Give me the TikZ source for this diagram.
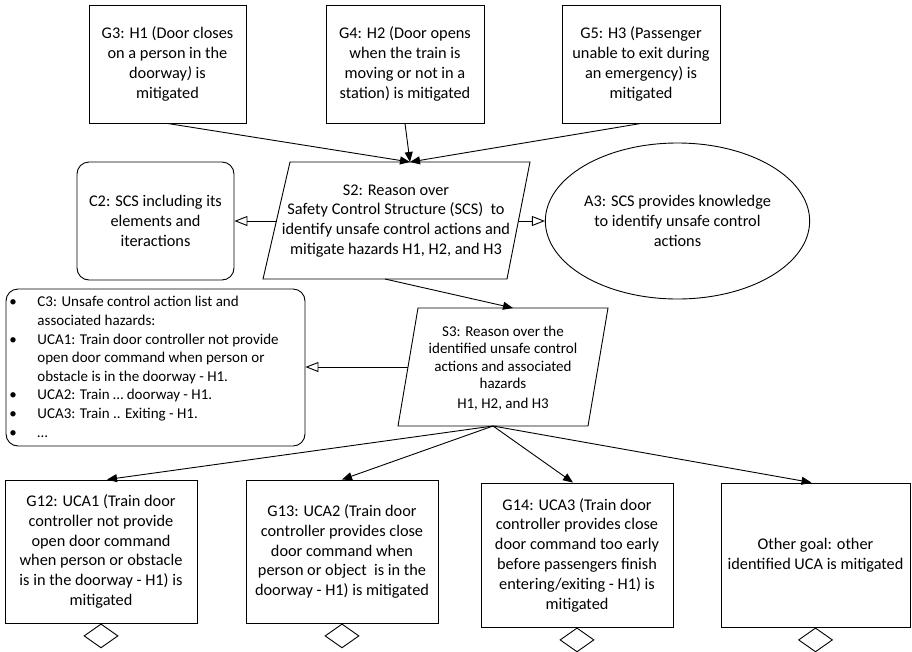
\documentclass[tikz,border=0pt]{standalone}
\usepackage{fontspec}
\setmainfont{Carlito}
\usetikzlibrary{arrows.meta,shapes.geometric,calc}
\begin{document}
\begin{tikzpicture}[x=1pt,y=-1pt,
  line width=0.9pt,
  bigfont/.style={font=\fontsize{16.3}{19.8}\selectfont},
  goalbox/.style={draw, rectangle, inner sep=0pt, align=center, bigfont},
  ctxbox/.style={draw, rectangle, rounded corners=12pt, inner sep=0pt, align=center, bigfont},
  solved/.style={-{Triangle[length=10pt,width=8pt]}},
  incontext/.style={-{Triangle[open,length=13pt,width=10pt]}},
  opt/.style={draw, diamond, minimum width=34pt, minimum height=24pt, inner sep=0pt, anchor=north}
]
\useasboundingbox (0,0) rectangle (912,651);

% top goals
\node[goalbox, minimum width=157pt, minimum height=118pt] (g3) at (167.5,64)
  {G3: H1 (Door closes\\on a person in the\\doorway\textit{)} is\\mitigated};
\node[goalbox, minimum width=158pt, minimum height=118pt] (g4) at (405,64)
  {G4: H2 (Door opens\\when the train is\\moving or not in a\\station) is mitigated};
\node[goalbox, minimum width=158pt, minimum height=118pt] (g5) at (641,64)
  {G5: H3 (Passenger\\unable to exit during\\an emergency) is\\mitigated};

% S2 strategy
\coordinate (s2tl) at (290,162);
\coordinate (s2tr) at (530,162);
\coordinate (s2br) at (507,279);
\coordinate (s2bl) at (263,279);
\coordinate (s2top) at (410,162);
\coordinate (s2bot) at (385,279);
\coordinate (s2L) at (277,221);
\coordinate (s2R) at (519,221);
\draw (s2tl) -- (s2tr) -- (s2br) -- (s2bl) -- cycle;
\node[inner sep=0pt, align=center, bigfont] (s2) at (396,221)
  {S2: Reason over\\Safety Control Structure (SCS)\ \ to\\identify unsafe control actions and\\mitigate hazards H1, H2, and H3};

% C2 context
\node[ctxbox, minimum width=157pt, minimum height=118pt] (c2) at (155.5,221)
  {C2: SCS including its\\elements and\\iteractions};

% A3 assumption
\node[draw, ellipse, inner sep=0pt, minimum width=235pt, minimum height=156pt, align=center, bigfont] (a3) at (677.5,221)
  {A3: SCS provides knowledge\\to identify unsafe control\\actions};

% C3 context
\node[draw, rectangle, rounded corners=12pt, minimum width=299pt, minimum height=157pt, inner sep=0pt] (c3) at (155.5,367.5) {};
\node[anchor=north west, inner sep=0pt, font=\fontsize{15}{18.6}\selectfont] (c3txt) at (9,293.5)
  {\begin{tabular}{@{}p{28pt}@{}p{262pt}@{}}
   \textbullet & C3: Unsafe control action list and\newline associated hazards:\\
   \textbullet & UCA1: Train door controller not provide\newline open door command when person or\newline obstacle is in the doorway - H1.\\
   \textbullet & UCA2: Train … doorway - H1.\\
   \textbullet & UCA3: Train .. Exiting - H1.\\
   \textbullet & …\\
   \end{tabular}};

% S3 strategy
\coordinate (s3tl) at (418,308);
\coordinate (s3tr) at (608,308);
\coordinate (s3br) at (588,426);
\coordinate (s3bl) at (398,426);
\coordinate (s3top) at (513,308);
\coordinate (s3bot) at (493,426);
\coordinate (s3L) at (408,367);
\draw (s3tl) -- (s3tr) -- (s3br) -- (s3bl) -- cycle;
\node[inner sep=0pt, align=center, font=\fontsize{15}{17.5}\selectfont] (s3) at (503,368)
  {S3: Reason over the\\identified unsafe control\\actions and associated\\hazards\\[2pt]H1, H2, and H3};

% bottom goals
\node[goalbox, minimum width=192pt, minimum height=143pt] (g12) at (101,551.5)
  {G12: UCA1 (Train door\\controller not provide\\open door command\\when person or obstacle\\is in the doorway - H1) is\\mitigated};
\node[goalbox, minimum width=192pt, minimum height=143pt] (g13) at (342,551.5)
  {G13: UCA2 (Train door\\controller provides close\\door command when\\person or object\ \ is in the\\doorway - H1) is mitigated};
\node[goalbox, minimum width=192pt, minimum height=144pt] (g14) at (577,555)
  {G14: UCA3 (Train door\\controller provides close\\door command too early\\before passengers finish\\entering/exiting - H1) is\\mitigated};
\node[goalbox, minimum width=189pt, minimum height=144pt] (other) at (815.5,555)
  {Other goal: other\\identified UCA is mitigated};

% undeveloped diamonds
\node[opt] (d12) at (g12.south) {};
\node[opt] (d13) at (g13.south) {};
\node[opt] (d14) at (g14.south) {};
\node[opt] (dother) at (other.south) {};

% connectors
\draw[solved] (g3.south) -- (s2top);
\draw[solved] (g4.south) -- (s2top);
\draw[solved] (g5.south) -- (s2top);
\draw[incontext] (s2L) -- (c2.east);
\draw[incontext] (s2R) -- (a3.west);
\draw[solved] (s2bot) -- (s3top);
\draw[incontext] (s3L) -- (c3.east |- s3L);
\draw[solved] (s3bot) -- ($(g12.north)+(6,0)$);
\draw[solved] (s3bot) -- (g13.north);
\draw[solved] (s3bot) -- ($(g14.north)+(-4,0)$);
\draw[solved] (s3bot) -- ($(other.north)+(-4,0)$);
\end{tikzpicture}
\end{document}
